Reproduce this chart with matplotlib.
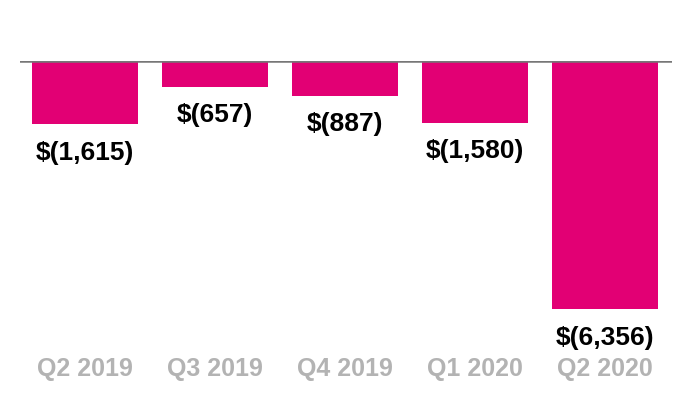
import matplotlib
matplotlib.use("Agg")
import matplotlib.pyplot as plt
import matplotlib.transforms as mtransforms

quarters = ["Q2 2019", "Q3 2019", "Q4 2019", "Q1 2020", "Q2 2020"]
values = [-1615, -657, -887, -1580, -6356]
value_labels = ["$(1,615)", "$(657)", "$(887)", "$(1,580)", "$(6,356)"]

plt.rcParams['font.family'] = ['Liberation Sans', 'DejaVu Sans']

fig = plt.figure(figsize=(6.9, 4.0), dpi=100)
# axes: top edge at the zero line (y=61px), left 20px, right 672px
ax = fig.add_axes([20/690, 10/400, 652/690, (400-61-10)/400])

x = list(range(len(quarters)))
ax.bar(x, values, width=0.815, color="#E20074", zorder=2)
ax.axhline(0, color="#777777", linewidth=1.8, zorder=3)

ax.set_xlim(-0.5, 4.515)
# 6356 -> 248 px, axes height 329 px
ax.set_ylim(-6356*329/248, 0)

for xi, v, lab in zip(x, values, value_labels):
    ax.annotate(lab, (xi, v), xytext=(0, -12), textcoords="offset points",
                ha="center", va="top", fontsize=19, fontweight="bold", color="black")

trans = mtransforms.blended_transform_factory(ax.transData, fig.transFigure)
for xi, q in zip(x, quarters):
    ax.text(xi, 1-369/400, q, transform=trans, ha="center", va="center",
            fontsize=18, fontweight="bold", color="#b3b3b3")

ax.axis("off")
fig.savefig("out.png", dpi=100)
